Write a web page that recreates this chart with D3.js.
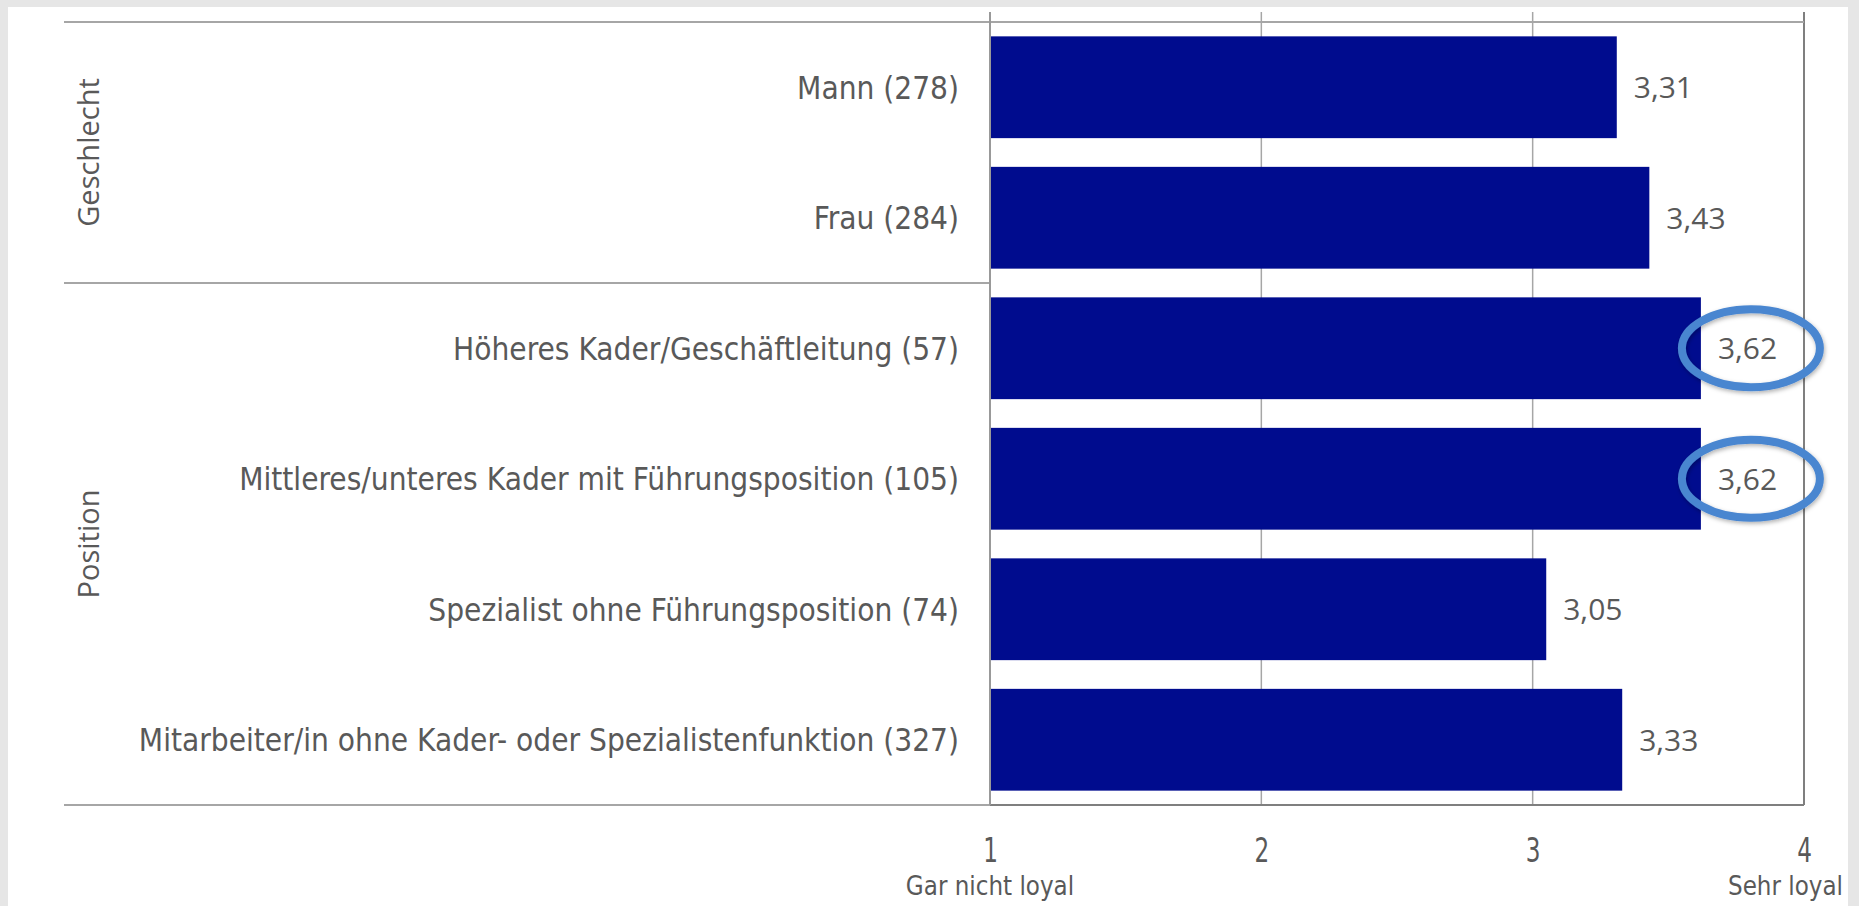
<!DOCTYPE html>
<meta charset="utf-8">
<script src="https://d3js.org/d3.v7.min.js"></script>
<style>
body { margin: 0; background: #e6e6e6; }
svg { display: block; }
.cat { font-family: "DejaVu Sans Condensed", "DejaVu Sans", sans-serif; font-size: 31.3px; fill: #595959; }
.val { font-family: "Open Sans", sans-serif; font-size: 30px; fill: #595959; }
.grp { font-family: "Open Sans", sans-serif; font-size: 29px; fill: #595959; }
.tick text { font-family: "DejaVu Sans Condensed", sans-serif; font-size: 33px; fill: #595959; }
.end { font-family: "DejaVu Sans Condensed", sans-serif; font-size: 27px; fill: #595959; }
</style>
<body>
<script>

// categories, top to bottom
var categories = [
  "Mann (278)",
  "Frau (284)",
  "Höheres Kader/Geschäftleitung (57)",
  "Mittleres/unteres Kader mit Führungsposition (105)",
  "Spezialist ohne Führungsposition (74)",
  "Mitarbeiter/in ohne Kader- oder Spezialistenfunktion (327)"
];
var values = [3.31, 3.43, 3.62, 3.62, 3.05, 3.33];
var groupOf = ["Geschlecht", "Geschlecht", "Position", "Position", "Position", "Position"];
var groupNames = ["Geschlecht", "Position"];
var highlighted = [false, false, true, true, false, false];
var tickValues = [1, 2, 3, 4];
var endLabels = ["Gar nicht loyal", "Sehr loyal"];

var width = 1859, height = 906;

var svg = d3.select("body").append("svg")
    .attr("width", width)
    .attr("height", height);

var defs = svg.append("defs");
var f = defs.append("filter").attr("id", "shadow")
    .attr("x", "-20%").attr("y", "-30%").attr("width", "140%").attr("height", "160%");
f.append("feDropShadow").attr("dx", 1).attr("dy", 2).attr("stdDeviation", 2)
    .attr("flood-color", "#000").attr("flood-opacity", 0.3);

// white panel
svg.append("rect")
    .attr("x", 8).attr("y", 7)
    .attr("width", 1840).attr("height", height - 7)
    .attr("fill", "#fff");

var x = d3.scaleLinear().domain([1, 4]).range([990, 1804]);
var y = d3.scaleBand().domain(categories).range([22, 805])
    .paddingInner(0.22).paddingOuter(0.11);

var rows = categories.map(function(c, i) {
  return {cat: c, value: values[i], group: groupOf[i], hl: highlighted[i]};
});

var labelLeft = 64;
var yTop = y.range()[0], yBottom = y.range()[1];

// gridlines
svg.append("g").selectAll("line")
    .data(tickValues.slice(1))
    .join("line")
    .attr("x1", function(d) { return x(d); })
    .attr("x2", function(d) { return x(d); })
    .attr("y1", 12).attr("y2", yBottom)
    .attr("stroke", function(d) { return d === 4 ? "#7f7f7f" : "#a6a6a6"; })
    .attr("stroke-width", function(d) { return d === 4 ? 2 : 1.5; });

// bars
svg.append("g").selectAll("rect")
    .data(rows)
    .join("rect")
    .attr("x", x(1))
    .attr("y", function(d) { return y(d.cat); })
    .attr("width", function(d) { return x(d.value) - x(1); })
    .attr("height", y.bandwidth())
    .attr("fill", "#000c8e");

// horizontal category lines
var step = y.step();
var groupStarts = groupNames.map(function(g) { return groupOf.indexOf(g); });
svg.append("line")
    .attr("x1", labelLeft).attr("x2", x(4))
    .attr("y1", yTop).attr("y2", yTop)
    .attr("stroke", "#a6a6a6").attr("stroke-width", 2);
svg.append("line")
    .attr("x1", labelLeft).attr("x2", x(1))
    .attr("y1", yBottom).attr("y2", yBottom)
    .attr("stroke", "#a6a6a6").attr("stroke-width", 2);
svg.append("line")
    .attr("x1", x(1)).attr("x2", x(4))
    .attr("y1", yBottom).attr("y2", yBottom)
    .attr("stroke", "#7f7f7f").attr("stroke-width", 2);
svg.append("g").selectAll("line")
    .data(groupStarts.slice(1))
    .join("line")
    .attr("x1", labelLeft).attr("x2", x(1))
    .attr("y1", function(i) { return yTop + i * step; })
    .attr("y2", function(i) { return yTop + i * step; })
    .attr("stroke", "#a6a6a6").attr("stroke-width", 2);

// category axis line at 1
svg.append("line")
    .attr("x1", x(1)).attr("x2", x(1))
    .attr("y1", 12).attr("y2", yBottom)
    .attr("stroke", "#999").attr("stroke-width", 2);

// category labels
svg.append("g").selectAll("text")
    .data(rows)
    .join("text")
    .attr("class", "cat")
    .attr("x", 959)
    .attr("y", function(d) { return y(d.cat) + y.bandwidth() / 2; })
    .attr("dy", "0.37em")
    .attr("text-anchor", "end")
    .text(function(d) { return d.cat; });

// group labels
svg.append("g").selectAll("text")
    .data(groupNames)
    .join("text")
    .attr("class", "grp")
    .attr("transform", function(g, k) {
      var i0 = groupStarts[k];
      var i1 = k + 1 < groupStarts.length ? groupStarts[k + 1] : categories.length;
      var cy = yTop + (i0 + i1) / 2 * step;
      return "translate(99," + cy + ") rotate(-90)";
    })
    .attr("text-anchor", "middle")
    .text(function(d) { return d; });

// value labels
var fmt = d3.formatLocale({decimal: ",", thousands: ".", grouping: [3], currency: ["", "€"]}).format(".2f");
svg.append("g").selectAll("text")
    .data(rows)
    .join("text")
    .attr("class", "val")
    .attr("x", function(d) { return x(d.value) + 17; })
    .attr("y", function(d) { return y(d.cat) + y.bandwidth() / 2; })
    .attr("dy", "0.36em")
    .text(function(d) { return fmt(d.value); });

// highlight ellipses
svg.append("g").selectAll("ellipse")
    .data(rows.filter(function(d) { return d.hl; }))
    .join("ellipse")
    .attr("cx", function(d) { return x(d.value) + 17 + 33; })
    .attr("cy", function(d) { return y(d.cat) + y.bandwidth() / 2; })
    .attr("rx", 69).attr("ry", 39)
    .attr("fill", "none")
    .attr("stroke", "#4a86d0")
    .attr("stroke-width", 8)
    .attr("filter", "url(#shadow)");

// value axis
var axis = svg.append("g")
    .attr("transform", "translate(0," + yBottom + ")")
    .call(d3.axisBottom(x).tickValues(tickValues).tickFormat(d3.format("d")).tickSize(0));
axis.select(".domain").remove();
axis.selectAll(".tick text")
    .attr("dy", null)
    .attr("y", 57)
    .attr("transform", "scale(0.78,1)");

// end labels
svg.append("text")
    .attr("class", "end")
    .attr("transform", "translate(" + x(1) + ",895) scale(0.95,1)")
    .attr("text-anchor", "middle")
    .text(endLabels[0]);
svg.append("text")
    .attr("class", "end")
    .attr("transform", "translate(1843,895) scale(0.95,1)")
    .attr("text-anchor", "end")
    .text(endLabels[1]);

</script>
</body>
</html>
